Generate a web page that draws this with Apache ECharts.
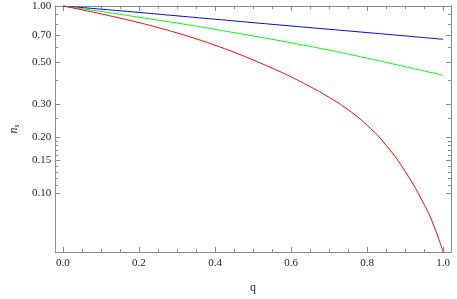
<!DOCTYPE html>
<html><head><meta charset="utf-8">
<script src="https://cdn.jsdelivr.net/npm/echarts@6/dist/echarts.min.js"></script>
<style>html,body{margin:0;padding:0;background:#fff}#c{width:457px;height:299px}</style>
</head><body><div id="c"></div>
<script>
// sample positions along q
const qBlueGreen = [0, 0.1, 0.2, 0.3, 0.4, 0.5, 0.6, 0.7, 0.8, 0.9, 1.0];
const qRed = [0, 0.05, 0.1, 0.15, 0.2, 0.25, 0.3, 0.35, 0.4, 0.45, 0.5, 0.55, 0.6, 0.65, 0.7, 0.75, 0.8, 0.85, 0.9, 0.95, 0.975, 1.0];
// series values n_s(q)
const blueValues  = [1, 0.962, 0.924, 0.886, 0.850, 0.815, 0.782, 0.751, 0.721, 0.692, 0.664];
const greenValues = [1, 0.935, 0.871, 0.811, 0.750, 0.692, 0.636, 0.581, 0.526, 0.474, 0.426];
const redValues   = [1, 0.954, 0.908, 0.861, 0.815, 0.767, 0.718, 0.668, 0.617, 0.566, 0.515, 0.466, 0.418, 0.371, 0.325, 0.279, 0.2305, 0.180, 0.1307, 0.0869, 0.0673, 0.0484];
// tick labels
const xMajorTicks = [0, 0.2, 0.4, 0.6, 0.8, 1.0];
const xMinorTicks = [0.05,0.1,0.15,0.25,0.3,0.35,0.45,0.5,0.55,0.65,0.7,0.75,0.85,0.9,0.95];
const yMajorTicks = [1.0, 0.7, 0.5, 0.3, 0.2, 0.15, 0.1];
const yMinorTicks = [0.9, 0.8, 0.6, 0.4, 0.25, 0.19, 0.18, 0.17, 0.16, 0.14, 0.13, 0.12, 0.11];

const X_MIN = -0.0205, X_MAX = 1.0205, Y_MIN = 0.0485, Y_MAX = 1.0;
const FRAME = '#8c8c8c';
const FONT = 'Times New Roman, Liberation Serif, Tinos, DejaVu Serif, serif';
const LABEL_COLOR = '#222';

function xAxisDef(pos, ticks, len, showLine, showLabel, extra) {
  return Object.assign({
    type: 'value', min: X_MIN, max: X_MAX, position: pos,
    axisLine: { show: showLine, onZero: false, lineStyle: { color: FRAME, width: 1 } },
    axisTick: { show: true, inside: true, length: len, customValues: ticks, lineStyle: { color: FRAME, width: 1 } },
    axisLabel: { show: showLabel, customValues: ticks, formatter: v => v.toFixed(1), margin: 6,
                 fontFamily: FONT, fontSize: 11, color: LABEL_COLOR },
    splitLine: { show: false }
  }, extra || {});
}
function yAxisDef(pos, ticks, len, showLine, showLabel, extra) {
  return Object.assign({
    type: 'log', logBase: 10, min: Y_MIN, max: Y_MAX, position: pos,
    axisLine: { show: showLine, onZero: false, lineStyle: { color: FRAME, width: 1 } },
    axisTick: { show: true, inside: true, length: len, customValues: ticks, lineStyle: { color: FRAME, width: 1 } },
    axisLabel: { show: showLabel, customValues: ticks, formatter: v => Number(v).toFixed(2), margin: 4,
                 fontFamily: FONT, fontSize: 11, color: LABEL_COLOR },
    splitLine: { show: false }, minorTick: { show: false }
  }, extra || {});
}

function pairs(qs, vals) { return qs.map((q, i) => [q, vals[i]]); }

const chart = echarts.init(document.getElementById('c'), null, { renderer: 'canvas' });
chart.setOption({
  animation: false,
  backgroundColor: '#fff',
  textStyle: { fontFamily: FONT },
  grid: { left: 45, right: 6, top: 6, bottom: 42, containLabel: false },
  xAxis: [
    xAxisDef('bottom', xMajorTicks, 5, true, true, {
      name: 'q', nameLocation: 'middle', nameGap: 30,
      nameTextStyle: { fontFamily: FONT, fontSize: 12, color: LABEL_COLOR }
    }),
    xAxisDef('bottom', xMinorTicks, 3, false, false),
    xAxisDef('top', xMajorTicks, 5, true, false),
    xAxisDef('top', xMinorTicks, 3, false, false)
  ],
  yAxis: [
    yAxisDef('left', yMajorTicks, 5, true, true, {
      name: '{n|n}{s|s}', nameLocation: 'middle', nameGap: 34, nameRotate: 90,
      nameTextStyle: { fontFamily: FONT, color: LABEL_COLOR,
        rich: { n: { fontFamily: FONT, fontStyle: 'italic', fontSize: 12, color: LABEL_COLOR },
                s: { fontFamily: FONT, fontStyle: 'italic', fontSize: 8, color: LABEL_COLOR, verticalAlign: 'bottom', padding: [6, 0, 0, 0] } } }
    }),
    yAxisDef('left', yMinorTicks, 3, false, false),
    yAxisDef('right', yMajorTicks, 5, true, false),
    yAxisDef('right', yMinorTicks, 3, false, false)
  ],
  series: [
    { type: 'line', data: pairs(qBlueGreen, blueValues), smooth: true, showSymbol: false, symbol: 'none',
      lineStyle: { color: '#0000ff', width: 1 }, xAxisIndex: 0, yAxisIndex: 0 },
    { type: 'line', data: pairs(qBlueGreen, greenValues), smooth: true, showSymbol: false, symbol: 'none',
      lineStyle: { color: '#00ff00', width: 1 }, xAxisIndex: 0, yAxisIndex: 0 },
    { type: 'line', data: pairs(qRed, redValues), smooth: true, showSymbol: false, symbol: 'none',
      lineStyle: { color: '#ff0000', width: 1 }, xAxisIndex: 0, yAxisIndex: 0 }
  ]
});
</script></body></html>
